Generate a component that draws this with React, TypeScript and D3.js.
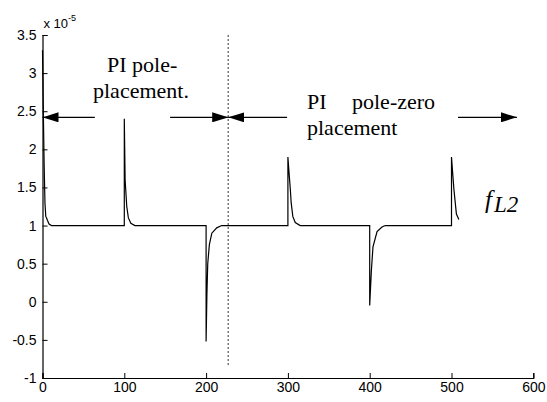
import React, { useEffect, useRef } from 'react';
import * as d3 from 'd3';

// trace of f_L2 (units of 1e-5) against sample index
const times = [0, 1, 2, 3, 4, 5, 6, 8, 11,
  100, 100, 101, 103, 105, 108, 113,
  200, 200, 201, 202, 204, 207, 213, 219,
  300, 300, 301, 303, 304, 306, 309, 315,
  400, 400, 402, 404, 409, 415, 419,
  500, 500, 501, 503, 506, 509];
const values = [3.3, 2.5, 1.8, 1.3, 1.12, 1.1, 1.07, 1.02, 1.0,
  1.0, 2.4, 1.6, 1.25, 1.1, 1.03, 1.0,
  1.0, -0.52, 0.1, 0.5, 0.75, 0.9, 0.97, 1.0,
  1.0, 1.9, 1.75, 1.47, 1.3, 1.12, 1.04, 1.0,
  1.0, -0.05, 0.4, 0.72, 0.92, 0.98, 1.0,
  1.0, 1.9, 1.75, 1.47, 1.15, 1.08];

const xTicks = [0, 100, 200, 300, 400, 500, 600];
const yTicks = [-1, -0.5, 0, 0.5, 1, 1.5, 2, 2.5, 3, 3.5];
const switchTime = 227;
const arrowLevel = 2.42;
// [from, to] in sample index, arrowhead at "to"
const arrows = [[64, 0], [156, switchTime], [299, switchTime], [508, 580]];

const W = 547;
const H = 402;

export default function App() {
  const xAxisRef = useRef<SVGGElement>(null);
  const yAxisRef = useRef<SVGGElement>(null);

  const x = d3.scaleLinear().domain([0, 600]).range([42.5, 533.3]);
  const y = d3.scaleLinear().domain([-1, 3.5]).range([378, 35]);

  useEffect(() => {
    const xa = d3.axisBottom(x).tickValues(xTicks).tickSize(-5).tickPadding(4).tickFormat(d3.format('d'));
    const ya = d3.axisLeft(y).tickValues(yTicks).tickSize(-5).tickPadding(6).tickFormat((d: any) => String(d));
    const gx = d3.select(xAxisRef.current!).call(xa as any);
    const gy = d3.select(yAxisRef.current!).call(ya as any);
    [gx, gy].forEach((g) => {
      g.select('.domain').attr('stroke', '#000').attr('stroke-width', 1.2);
      g.selectAll('.tick line').attr('stroke', '#000');
      g.selectAll('.tick text').attr('fill', '#000').style('font-family', 'Liberation Sans, Arial, sans-serif').style('font-size', '14px');
    });
  }, []);

  const line = d3.line<number>().x((_, i) => x(times[i])).y((d) => y(d));

  return (
    <svg width={W} height={H} style={{ position: 'absolute', left: 0, top: 0, background: '#fff' }}>
      <defs>
        <marker id="head" viewBox="0 0 16 10" refX="16" refY="5" markerWidth="16" markerHeight="10" markerUnits="userSpaceOnUse" orient="auto">
          <path d="M0,0 L16,5 L0,10 Z" fill="#000" />
        </marker>
      </defs>
      <g ref={xAxisRef} transform={`translate(0,${y(-1)})`} />
      <g ref={yAxisRef} transform={`translate(${x(0)},0)`} />
      <text x={x(0) + 1} y={y(3.5) - 7} fontFamily="Liberation Sans, Arial, sans-serif" fontSize={13}>
        x 10<tspan dy={-7} fontSize={9}>-5</tspan>
      </text>
      <line x1={x(switchTime)} x2={x(switchTime)} y1={y(3.5)} y2={y(-0.85)} stroke="#000" strokeWidth={0.8} strokeDasharray="2,2" />
      <path d={line(values) || ''} fill="none" stroke="#000" strokeWidth={1.2} />
      {arrows.map(([a, b], i) => (
        <line key={i} x1={x(a)} x2={x(b)} y1={y(arrowLevel)} y2={y(arrowLevel)} stroke="#000" strokeWidth={1.3} markerEnd="url(#head)" />
      ))}
      <g fontFamily="Liberation Serif, Times New Roman, serif" fontSize={22} fill="#000">
        <text x={107} y={72}>PI pole-</text>
        <text x={93} y={98}>placement.</text>
        <text x={307} y={109}>PI</text>
        <text x={352} y={109}>pole-zero</text>
        <text x={307} y={135}>placement</text>
      </g>
      <text x={485} y={208} fontFamily="Liberation Serif, Times New Roman, serif" fontStyle="italic" fontSize={25}>
        f<tspan fontSize={23} dx={2} dy={4}>L2</tspan>
      </text>
    </svg>
  );
}
